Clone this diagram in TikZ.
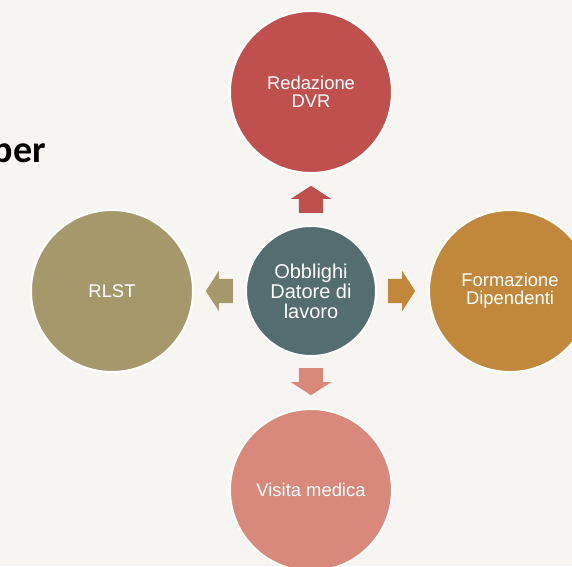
\documentclass[tikz,border=0pt]{standalone}
\usepackage{fontspec}
\setmainfont{Liberation Sans}
\newfontfamily\titlefont{Carlito}
\usetikzlibrary{shapes.arrows,positioning}

\definecolor{paper}{RGB}{247,245,241}
\definecolor{hubgrey}{RGB}{84,109,110}
\definecolor{dvrred}{RGB}{192,80,77}
\definecolor{formgold}{RGB}{193,136,59}
\definecolor{rlstolive}{RGB}{165,153,108}
\definecolor{visitpink}{RGB}{217,136,124}

\begin{document}
\begin{tikzpicture}[node distance=53pt,
  bubble/.style={circle, draw=white, line width=2pt, outer sep=0pt, inner sep=0pt, minimum size=162pt, align=center, text=white, font=\fontsize{18.4}{18.4}\selectfont},
  hub/.style={bubble, minimum size=130pt, font=\fontsize{20}{20}\selectfont},
  blockarrow/.style={single arrow, draw=none, anchor=tail, minimum height=27pt, minimum width=40pt, inner xsep=0pt, inner ysep=12pt, single arrow tip angle=114, single arrow head extend=8pt}]
  \useasboundingbox (-311pt,-275pt) rectangle (261pt,291pt);
  \fill[paper] (-311pt,-275pt) rectangle (261pt,291pt);
  \node[anchor=base east, inner sep=0pt, font=\titlefont\bfseries\fontsize{38}{38}\selectfont] (per) at (-265pt,129pt) {per};
  % centre and the four duties
  \node[hub, fill=hubgrey] (c) {Obblighi\\Datore di\\lavoro};
  \node[bubble, above=of c, fill=dvrred] (dvr) {Redazione\\DVR};
  \node[bubble, right=of c, fill=formgold] (form) {Formazione\\Dipendenti};
  \node[bubble, below=of c, fill=visitpink] (visit) {Visita medica};
  \node[bubble, left=of c, fill=rlstolive] (rlst) {RLST};
  % block arrows
  \node[blockarrow, rotate=90, fill=dvrred] (up) at ([yshift=13pt]c.north) {};
  \node[blockarrow, fill=formgold] (rt) at ([xshift=12pt]c.east) {};
  \node[blockarrow, rotate=270, fill=visitpink] (dn) at ([yshift=-12pt]c.south) {};
  \node[blockarrow, rotate=180, fill=rlstolive] (lt) at ([xshift=-13pt]c.west) {};
\end{tikzpicture}
\end{document}
